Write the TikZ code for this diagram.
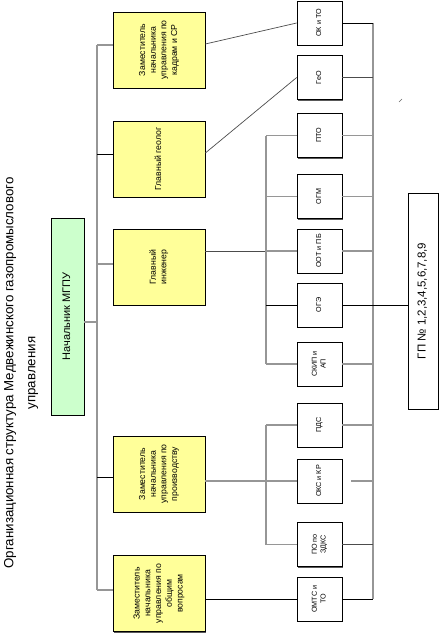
\documentclass[tikz,border=0pt]{standalone}
\usepackage{fontspec}
\setmainfont{Liberation Sans}
\usepackage{graphicx}
\usetikzlibrary{shadows,calc}
\definecolor{yel}{RGB}{255,255,153}
\definecolor{grn}{RGB}{204,255,204}
\definecolor{lgray}{RGB}{150,150,150}
\newcommand\vtxt[1]{\rotatebox{90}{\begin{tabular}{@{}c@{}}#1\end{tabular}}}
\begin{document}
\begin{tikzpicture}[x=1pt,y=-1pt,
  box/.style={draw=black, line width=0.7pt, inner sep=0pt,
    drop shadow={shadow xshift=1.2pt,shadow yshift=-1.2pt,fill=black!65,opacity=1}},
  ybox/.style={box, fill=yel, minimum width=92pt, minimum height=76pt,
    font=\fontsize{8.7}{10.7}\selectfont},
  sbox/.style={box, fill=white, minimum width=45pt, minimum height=44pt,
    font=\fontsize{7.2}{8.6}\selectfont},
  gl/.style={draw=lgray, line width=1.6pt},
  bl/.style={draw=black, line width=0.8pt},
  dl/.style={draw=black!70, line width=0.7pt}]
\useasboundingbox (0,0) rectangle (446,634);
% title
\node[rotate=90, align=center, font=\fontsize{13.3}{22}\selectfont] (title) at (21,373)
  {Организационная структура Медвежинского газопромыслового\\управления};
% boss
\node[box, fill=grn, minimum width=33pt, minimum height=197pt,
  font=\fontsize{11}{13}\selectfont] (boss) at (67.5,316.5) {\vtxt{Начальник МГПУ}};
% deputies
\node[ybox] (y1) at (159,50) {\vtxt{Заместитель\\начальника\\управления по\\кадрам и СР}};
\node[ybox] (y2) at (159,159) {\vtxt{Главный геолог}};
\node[ybox] (y3) at (159,267) {\vtxt{Главный\\инженер}};
\node[ybox] (y4) at (159,474) {\vtxt{Заместитель\\начальника\\управления по\\производству}};
\node[ybox] (y5) at (159,593.5) {\vtxt{Заместитель\\начальника\\управления по\\общим\\вопросам}};
% departments
\node[sbox] (s1) at (319.5,23) {\vtxt{ОК и ТО}};
\node[sbox] (s2) at (319.5,77.5) {\vtxt{ГеО}};
\node[sbox] (s3) at (319.5,135.5) {\vtxt{ПТО}};
\node[sbox] (s4) at (319.5,196.5) {\vtxt{ОГМ}};
\node[sbox] (s5) at (319.5,251) {\vtxt{ООТ и ПБ}};
\node[sbox] (s6) at (319.5,305) {\vtxt{ОГЭ}};
\node[sbox] (s7) at (319.5,364) {\vtxt{СКИП и\\АП}};
\node[sbox] (s8) at (319.5,425) {\vtxt{ПДС}};
\node[sbox] (s9) at (319.5,481) {\vtxt{ОКС и КР}};
\node[sbox] (s10) at (319.5,544.5) {\vtxt{ПО по\\ЗДКС}};
\node[sbox] (s11) at (319.5,599) {\vtxt{ОМТС и\\ТО}};
% GP
\node[box, fill=white, minimum width=30pt, minimum height=216pt,
  font=\fontsize{11.5}{13}\selectfont] (gp) at (423,301) {\vtxt{ГП № 1,2,3,4,5,6,7,8,9}};
% bus coordinates
\coordinate (b0) at (97,322);
\coordinate (mt) at (97,45);
\coordinate (m2) at (97,154);
\coordinate (m3) at (97,264);
\coordinate (m4) at (97,477);
\coordinate (mb) at (97,590);
\coordinate (ex) at (266,0);
\coordinate (rx) at (373,0);
\coordinate (okx) at (351,0);
% boss to main bus
\draw[gl] (boss.east|-b0) -- (b0);
\draw[gl] (mt) -- (mb);
\draw[gl] (mt) -- (mt-|y1.west);
\draw[bl] (m2) -- (m2-|y2.west);
\draw[gl] (m3) -- (m3-|y3.west);
\draw[bl] (m4) -- (m4-|y4.west);
\draw[gl] (mb) -- (mb-|y5.west);
% deputies to departments
\draw[dl] ($(y1.east)+(0,-6)$) -- (s1.west);
\draw[dl] ($(y2.east)+(0,-6)$) -- (s2.west);
\draw[dl] (y3.east|-s5.west) -- (ex|-s5.west);
\draw[gl] (ex|-s3.west) -- (ex|-s7.west);
\draw[gl] (ex|-s3.west) -- (s3.west);
\draw[gl] (ex|-s4.west) -- (s4.west);
\draw[gl] (ex|-s5.west) -- (s5.west);
\draw[bl] (ex|-s6.west) -- (s6.west);
\draw[gl] (ex|-s7.west) -- (s7.west);
\draw[gl] (y4.east|-s9.west) -- (s9.west);
\draw[gl] (ex|-s8.west) -- (ex|-s10.west);
\draw[gl] (ex|-s8.west) -- (s8.west);
\draw[gl] (ex|-s10.west) -- (s10.west);
\draw[bl] (y5.east|-s11.west) -- (s11.west);
% right bus
\draw[gl] (rx|-s1.east) -- (rx|-s11.east);
\draw[bl] (s1.east) -- (rx|-s1.east);
\draw[dl] (s2.east) -- (rx|-s2.east);
\draw[gl] (s3.east) -- (rx|-s3.east);
\draw[gl] (s4.east) -- (rx|-s4.east);
\draw[gl] (s5.east) -- (rx|-s5.east);
\draw[bl] (s6.east) -- (rx|-s6.east);
\draw[gl] (s7.east) -- (rx|-s7.east);
\draw[gl] (s8.east) -- (rx|-s8.east);
\draw[gl] (okx|-s9.east) -- (rx|-s9.east);
\draw[dl] (s10.east) -- (rx|-s10.east);
\draw[bl] (s11.east) -- (rx|-s11.east);
\draw[bl] (rx|-s6.east) -- (gp.west|-s6.east);
% stray tick
\draw[black!60, line width=0.5pt] (399,102) -- (402,99);
\end{tikzpicture}
\end{document}
